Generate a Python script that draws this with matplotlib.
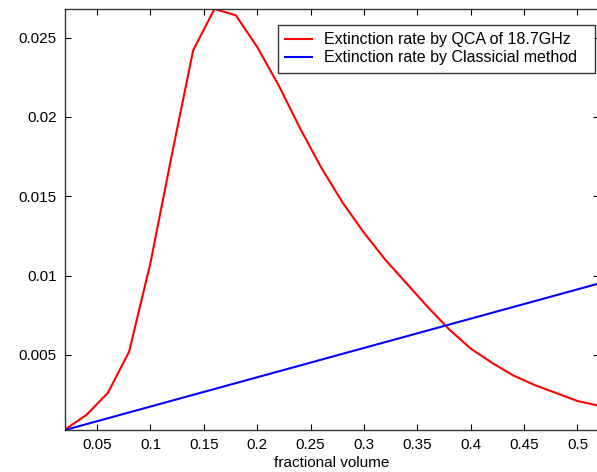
import matplotlib
matplotlib.use("Agg")
import matplotlib.pyplot as plt

plt.rcParams['font.family'] = ['Liberation Sans', 'DejaVu Sans']

# fractional volume samples
volume = [0.02, 0.04, 0.06, 0.08, 0.10, 0.12, 0.14, 0.16, 0.18, 0.20,
          0.22, 0.24, 0.26, 0.28, 0.30, 0.32, 0.34, 0.36, 0.38, 0.40,
          0.42, 0.44, 0.46, 0.48, 0.50, 0.52]

# extinction rate, QCA at 18.7GHz
qca_rate = [0.00030, 0.00122, 0.0026, 0.0052, 0.0108, 0.0176, 0.0242, 0.0268,
            0.0264, 0.0244, 0.0220, 0.0193, 0.0168, 0.0146, 0.0127, 0.0110,
            0.0095, 0.0080, 0.0066, 0.0054, 0.0045, 0.0037, 0.0031, 0.0026,
            0.0021, 0.0018]

# extinction rate, classical method
classic_rate = [0.00027, 0.000639, 0.001008, 0.001378, 0.001747, 0.002116,
                0.002485, 0.002854, 0.003224, 0.003593, 0.003962, 0.004331,
                0.004700, 0.005070, 0.005439, 0.005808, 0.006177, 0.006546,
                0.006916, 0.007285, 0.007654, 0.008023, 0.008392, 0.008762,
                0.009131, 0.009500]

xtick_vals = [0.05, 0.1, 0.15, 0.2, 0.25, 0.3, 0.35, 0.4, 0.45, 0.5]
xtick_labels = ['0.05', '0.1', '0.15', '0.2', '0.25', '0.3', '0.35', '0.4', '0.45', '0.5']
ytick_vals = [0.005, 0.01, 0.015, 0.02, 0.025]
ytick_labels = ['0.005', '0.01', '0.015', '0.02', '0.025']

fig = plt.figure(figsize=(5.97, 4.72), dpi=100)
ax = fig.add_axes([0.109, 0.089, 0.894, 0.892])

ax.plot(volume, qca_rate, color='#ff0000', lw=1.5, label='Extinction rate by QCA of 18.7GHz')
ax.plot(volume, classic_rate, color='#0000ff', lw=1.5, label='Extinction rate by Classicial method')

ax.set_xlim(0.02, 0.52)
ax.set_ylim(0.00027, 0.0268)
ax.set_xticks(xtick_vals)
ax.set_xticklabels(xtick_labels)
ax.set_yticks(ytick_vals)
ax.set_yticklabels(ytick_labels)
ax.tick_params(direction='in', length=4, width=0.8, top=True, right=True,
               labelsize=11, pad=6)
for s in ax.spines.values():
    s.set_color('#333333')
    s.set_linewidth(1.0)

ax.set_xlabel('fractional volume', fontsize=11, labelpad=3)

# legend box spans a fixed width in the upper right
leg = ax.legend(loc='upper left', mode='expand',
                bbox_to_anchor=(278 / 597, 1 - 70 / 472, 317 / 597, 45 / 472),
                bbox_transform=fig.transFigure, fontsize=11.5, frameon=True,
                fancybox=False, borderpad=0.45, handlelength=1.7,
                handletextpad=0.7, labelspacing=0.2, borderaxespad=0)
leg.get_frame().set_edgecolor('black')
leg.get_frame().set_linewidth(1.0)

fig.savefig('out.png', dpi=100)
